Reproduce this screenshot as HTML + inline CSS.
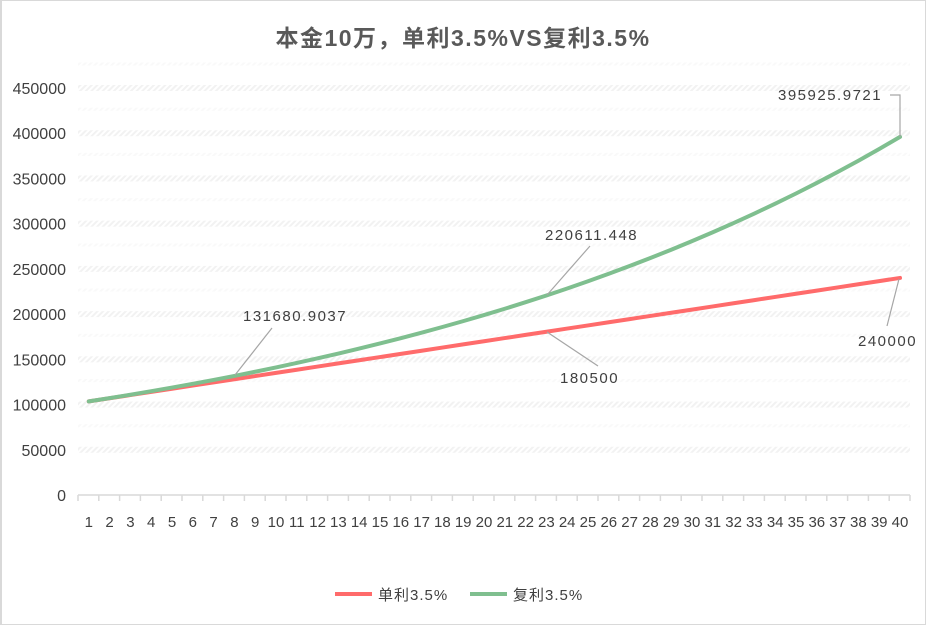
<!DOCTYPE html>
<html><head><meta charset="utf-8"><style>
body{margin:0;background:#fff;}
svg{display:block;font-family:"Liberation Sans","Noto Sans CJK SC",sans-serif;}
</style></head><body>
<svg id="s" width="926" height="625" xmlns="http://www.w3.org/2000/svg">
<defs><pattern id="h" width="4" height="4" patternUnits="userSpaceOnUse" patternTransform="rotate(45)"><rect width="4" height="4" fill="#fff"/><rect width="2" height="4" fill="#f2f2f2"/></pattern></defs>
<rect x="0.5" y="0.5" width="925" height="624" fill="#fff" stroke="#d9d9d9"/>
<rect x="0" y="0" width="2" height="625" fill="#d9d9d9"/>
<text x="463" y="46" text-anchor="middle" font-size="23" font-weight="bold" fill="#595959" letter-spacing="1.5">本金10万，单利3.5%VS复利3.5%</text>
<g id="g"></g>
<line x1="78" y1="495" x2="910" y2="495" stroke="#d9d9d9" stroke-width="1.5"/>
<g font-size="15" fill="#404040" letter-spacing="1.5">
<text x="243" y="321">131680.9037</text>
<text x="545" y="240">220611.448</text>
<text x="560" y="383">180500</text>
<text x="858" y="346">240000</text>
<text x="778" y="100">395925.9721</text>
</g>
<g stroke="#a6a6a6" stroke-width="1.2" fill="none">
<polyline points="235,375 272,328"/>
<polyline points="547,295 590,246"/>
<polyline points="547,332 598,366"/>
<polyline points="899,279 887,326"/>
<polyline points="900,137 900,95 890,95"/>
</g>
<line x1="335" y1="594" x2="372" y2="594" stroke="#ff6b6b" stroke-width="4"/>
<text x="378" y="600" font-size="15" fill="#404040" letter-spacing="1">单利3.5%</text>
<line x1="470" y1="594" x2="507" y2="594" stroke="#7fbf8f" stroke-width="4"/>
<text x="513" y="600" font-size="15" fill="#404040" letter-spacing="1">复利3.5%</text>
</svg>
<script>
var g=document.getElementById('g'),h='';
function Y(v){return 495-v*407/450000;}
function X(i){return 88.8+(i-1)*20.8;}
for(var k=1;k<=9;k++){var y=Y(k*50000);h+='<rect x="78" y="'+(y-3)+'" width="832" height="6" fill="url(#h)"/>';h+='<rect x="78" y="'+(y-25.5)+'" width="832" height="3" fill="url(#h)" opacity="0.5"/>';}
for(var k=0;k<=9;k++){h+='<text x="66" y="'+(Y(k*50000)+6)+'" text-anchor="end" font-size="16" fill="#404040">'+(k*50000)+'</text>';}
for(var i=0;i<=40;i++){var x=78+i*20.8;h+='<line x1="'+x+'" y1="495" x2="'+x+'" y2="501" stroke="#d9d9d9" stroke-width="1.5"/>';}
for(var i=1;i<=40;i++){h+='<text x="'+X(i)+'" y="527" text-anchor="middle" font-size="15" fill="#404040">'+i+'</text>';}
var a=[],b=[];
for(var i=1;i<=40;i++){a.push(X(i)+','+Y(100000+3500*i));b.push(X(i)+','+Y(100000*Math.pow(1.035,i)));}
h+='<polyline points="'+a.join(' ')+'" fill="none" stroke="#ff6b6b" stroke-width="4" stroke-linejoin="round" stroke-linecap="round"/>';
h+='<polyline points="'+b.join(' ')+'" fill="none" stroke="#7fbf8f" stroke-width="4" stroke-linejoin="round" stroke-linecap="round"/>';
g.innerHTML=h;
</script>
</body></html>
